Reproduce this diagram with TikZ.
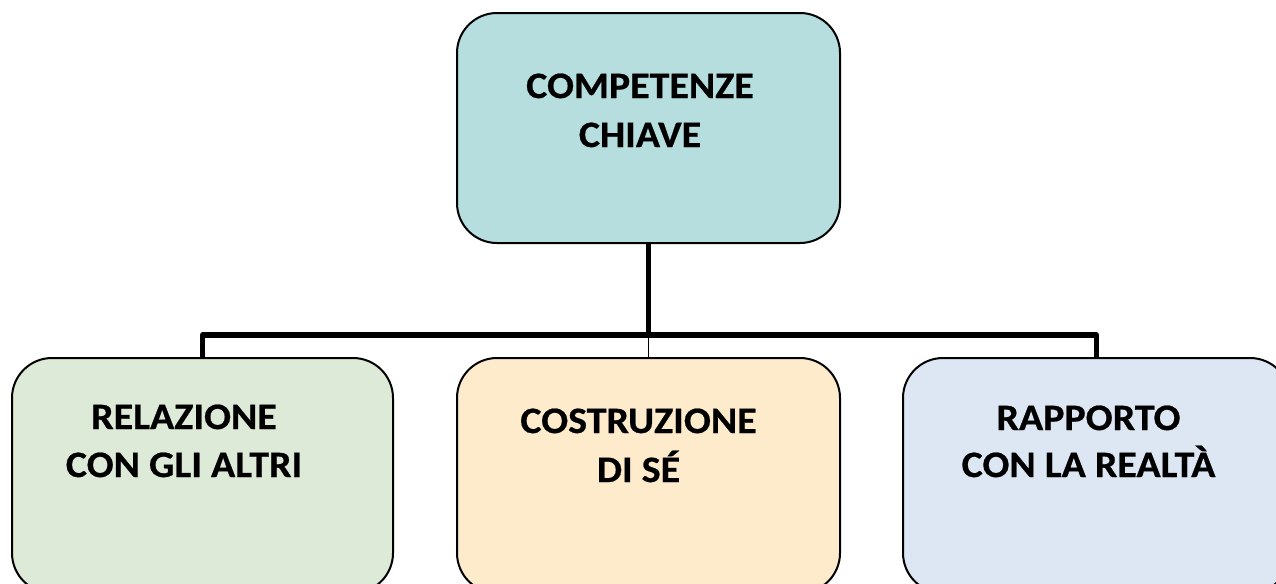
\documentclass[tikz,border=0pt]{standalone}
\usepackage{fontspec}
\setmainfont{Carlito}[BoldFeatures={FakeStretch=1.07,FakeBold=0.6}]
\definecolor{cTop}{RGB}{183,222,223}
\definecolor{cLeft}{RGB}{222,234,216}
\definecolor{cMid}{RGB}{254,235,204}
\definecolor{cRight}{RGB}{220,231,243}
\begin{document}
\begin{tikzpicture}[x=0.75pt,y=-0.75pt,
  box/.style={draw=black,line width=1.5pt,rounded corners=30pt,inner sep=0pt},
  lbl/.style={anchor=base,inner sep=0pt,font=\fontsize{28}{36}\selectfont\bfseries},
  conn/.style={line width=4pt,line join=round},
  thinconn/.style={line width=0.75pt}]
\useasboundingbox (0,0) rectangle (1276,583);
\clip (0,0) rectangle (1276,583);
\node[box,fill=cTop,minimum width=287.25pt,minimum height=172.5pt] (T) at (648.5,128) {};
\node[box,fill=cLeft,minimum width=285.75pt,minimum height=176.25pt] (L) at (202.5,475.5) {};
\node[box,fill=cMid,minimum width=287.25pt,minimum height=176.25pt] (M) at (648.5,475.5) {};
\node[box,fill=cRight,minimum width=290.25pt,minimum height=176.25pt] (R) at (1096.5,475.5) {};
\coordinate (J) at (648.5,335);
\draw[conn] (T.south) -- (J);
\draw[conn] (L.north) |- (J) -| (R.north);
\draw[thinconn] (J) -- (M.north);
\node[lbl] (t1) at (640,98) {COMPETENZE};
\node[lbl] (t2) at (640,147) {CHIAVE};
\node[lbl] (l1) at (184,429) {RELAZIONE};
\node[lbl] (l2) at (184,477) {CON GLI ALTRI};
\node[lbl] (m1) at (638.5,433) {COSTRUZIONE};
\node[lbl] (m2) at (638.5,482) {DI SÉ};
\node[lbl] (r1) at (1088.5,430) {RAPPORTO};
\node[lbl] (r2) at (1088.5,477) {CON LA REALTÀ};
\end{tikzpicture}
\end{document}
